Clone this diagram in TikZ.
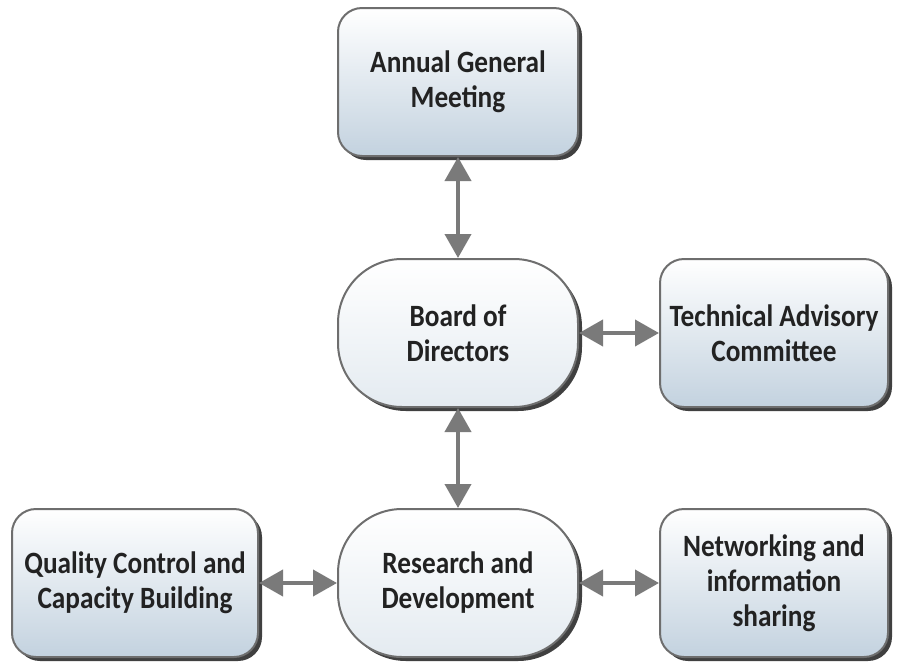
\documentclass[tikz,border=0pt]{standalone}
\usepackage{fontspec}
\setmainfont{Carlito}[FakeStretch=0.88]
\usetikzlibrary{shadows,arrows.meta}
\definecolor{boxline}{HTML}{6E6E6E}
\definecolor{boxfill}{HTML}{C3D2DF}
\definecolor{labeltext}{HTML}{222222}
\definecolor{linkgray}{HTML}{7A7A7A}
\tikzset{
  unit/.style={draw=boxline, line width=1pt, rounded corners=12pt,
    top color=white, bottom color=boxfill, text=labeltext,
    minimum width=120pt, minimum height=74pt, align=center,
    font=\fontsize{15.5}{17.5}\selectfont\bfseries,
    drop shadow={shadow xshift=2pt, shadow yshift=-2pt, opacity=.75, fill=black}},
  core/.style={unit, rounded corners=32pt, bottom color=boxfill!45},
  link/.style={draw=linkgray, line width=2pt,
    {Triangle[length=12pt,width=13pt,fill=linkgray]}-{Triangle[length=12pt,width=13pt,fill=linkgray]}}
}

\begin{document}
\begin{tikzpicture}[x=0.5pt,y=-0.5pt]
\useasboundingbox (0,0) rectangle (901,665);
\node[unit] (agm) at (458, 82)  {Annual General\\Meeting};
\node[core] (bod) at (458, 333) {Board of\\Directors};
\node[unit, minimum width=114pt] (tac) at (774, 333) {Technical Advisory\\Committee};
\node[core] (rd)  at (458, 583) {Research and\\Development};
\node[unit, minimum width=123pt] (qc)  at (135, 583) {Quality Control and\\Capacity Building};
\node[unit, minimum width=114pt] (net) at (774, 583) {Networking and\\information\\sharing};
\draw[link] (agm) -- (bod);
\draw[link] (bod) -- (tac);
\draw[link] (bod) -- (rd);
\draw[link] (qc) -- (rd);
\draw[link] (rd) -- (net);
\end{tikzpicture}
\end{document}
